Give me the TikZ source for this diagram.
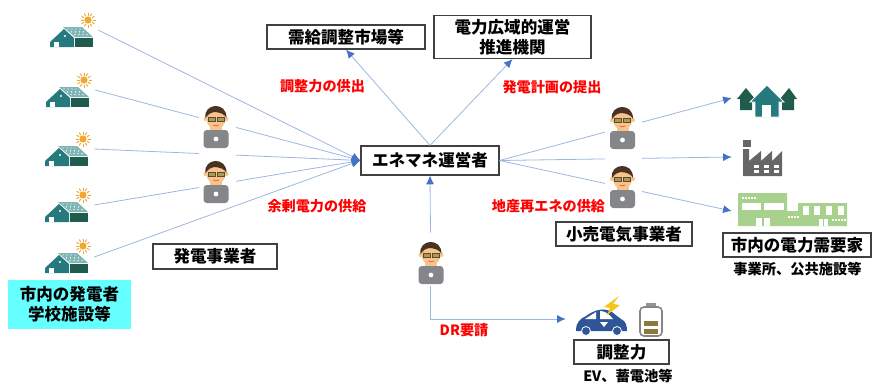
\documentclass[tikz,border=0pt]{standalone}
\usepackage{fontspec}
\setmainfont{Noto Sans CJK JP}
\usetikzlibrary{arrows.meta}
\definecolor{linkblue}{HTML}{9DB6E2}
\definecolor{tipblue}{HTML}{4472C4}
\definecolor{boxgray}{HTML}{404040}
\definecolor{genaqua}{HTML}{66FFFF}
\definecolor{teal}{HTML}{267A7D}
\definecolor{deepteal}{HTML}{1F5C4D}
\definecolor{panelteal}{HTML}{7FB5B5}
\definecolor{sunorange}{HTML}{F0A830}
\definecolor{hairbrown}{HTML}{4A3322}
\definecolor{skin}{HTML}{F6C48C}
\definecolor{lapgray}{HTML}{85868A}
\definecolor{glassolive}{HTML}{A89A5A}
\definecolor{factgray}{HTML}{666666}
\definecolor{bldgreen}{HTML}{A9D18E}
\definecolor{carblue}{HTML}{2F5597}
\definecolor{boltyellow}{HTML}{F5C518}
\definecolor{battbrown}{HTML}{8B7B3A}
\tikzset{
  namebox/.style={draw=boxgray, line width=0.9pt, fill=white, inner sep=0pt, align=center,
    font=\bfseries\fontsize{12.4}{15}\selectfont},
  redlabel/.style={text=red, inner sep=0pt, font=\bfseries\fontsize{10.6}{13}\selectfont},
  plainlabel/.style={inner sep=0pt, font=\bfseries\fontsize{10.7}{13}\selectfont},
  iconspot/.style={inner sep=0pt, minimum width=49*0.75pt, minimum height=35*0.75pt},
  personspot/.style={fill=white, inner sep=0pt, minimum width=37*0.75pt},
  link/.style={draw=linkblue, line width=0.6pt},
  flow/.style={link, -{Latex[color=tipblue, length=6.5pt, width=6pt]}},
  solarhouse/.pic={
    \fill[sunorange] (38,-27) circle (3.6);
    \foreach \a in {0,30,...,330} {
      \draw[sunorange, line width=0.7pt] (38,-27) ++(\a:4.5) -- ++(\a:3);
    }
    \fill[panelteal] (13,-20) -- (32,-20) -- (43,-10) -- (25,-10) -- cycle;
    \foreach \u in {0,1,2} {
      \foreach \v in {0,1,2,3} {
        \fill[white] (18+\v*4+\u*3.5,-18+\u*2.8) circle (0.7);
      }
    }
    \fill[teal] (0,0) -- (0,-5) -- (14,-18) -- (24,-9) -- (24,0) -- cycle;
    \fill[deepteal] (25,-9) rectangle (43,0);
    \fill[white] (4,0) rectangle (9,-5);
    \fill[white] (15,-11) circle (1.1);
  },
  engineer/.pic={
    \fill[skin] (-6,9) rectangle (6,14);
    \fill[skin] (-10.5,1) circle (2);
    \fill[skin] (10.5,1) circle (2);
    \fill[skin] (0,1) ellipse (9.5 and 10);
    \fill[hairbrown] (-10.5,0) .. controls (-13,-15) and (11,-17) .. (10.5,0)
      .. controls (9,-4) and (3,-6) .. (-2,-6) .. controls (-6,-5) and (-9,-3) .. (-10.5,0);
    \draw[hairbrown!70!battbrown, fill=glassolive, line width=0.5pt] (-8,-1) rectangle (-1,3);
    \draw[hairbrown!70!battbrown, fill=glassolive, line width=0.5pt] (1,-1) rectangle (8,3);
    \draw[red!60!skin, line width=0.5pt] (-3,7) .. controls (-1,8) and (1,8) .. (3,7);
    \fill[lapgray, rounded corners=2.5pt] (-12.5,12) rectangle (12.5,30);
    \fill[white] (0,21) circle (2.4);
  }
}
\begin{document}
\begin{tikzpicture}[x=0.75pt, y=-0.75pt]
\useasboundingbox (0,0) rectangle (872,383);

\node[namebox, minimum width=138*0.75pt, minimum height=29*0.75pt] (ene) at (430,160.5) {エネマネ運営者};
\node[namebox, minimum width=158*0.75pt, minimum height=24*0.75pt] (market) at (346,37) {需給調整市場等};
\node[namebox, minimum width=157*0.75pt, minimum height=43*0.75pt] (occto) at (512.5,37) {電力広域的運営\\推進機関};
\node[namebox, minimum width=124*0.75pt, minimum height=25*0.75pt] (gencom) at (215,256.5) {発電事業者};
\node[namebox, minimum width=136*0.75pt, minimum height=24*0.75pt] (retail) at (624,234) {小売電気事業者};
\node[namebox, minimum width=148*0.75pt, minimum height=24*0.75pt] (demand) at (797,245) {市内の電力需要家};
\node[namebox, minimum width=95*0.75pt, minimum height=24*0.75pt] (adjust) at (621.5,352) {調整力};
\node[fill=genaqua, inner sep=0pt, align=center, minimum width=123*0.75pt, minimum height=49*0.75pt,
  font=\bfseries\fontsize{12.4}{15}\selectfont] (genpeople) at (69.5,304.5) {市内の発電者\\学校施設等};
\node[plainlabel] (demandsub) at (797.5,269) {事業所、公共施設等};
\node[plainlabel] (adjustsub) at (628,376) {EV、蓄電池等};

\node[iconspot] (house1) at (73.5,30) {};
\node[iconspot] (house2) at (70.5,90) {};
\node[iconspot] (house3) at (69.5,149) {};
\node[iconspot] (house4) at (69.5,205) {};
\node[iconspot] (house5) at (69.5,257) {};
\node[inner sep=0pt, minimum width=70*0.75pt, minimum height=10pt] (homes) at (767,98) {};
\node[inner sep=0pt, minimum width=50*0.75pt, minimum height=10pt] (factory) at (757,157) {};
\node[inner sep=0pt, minimum width=118*0.75pt, minimum height=10pt] (office) at (791,211) {};
\node[inner sep=0pt, minimum width=71*0.75pt, minimum height=10pt] (car) at (601.5,319) {};
\node[personspot, minimum height=53*0.75pt] (dr) at (430.5,259.5) {};

\draw[flow] (house1.east) -- (ene.west);
\draw[flow] (house2.east) -- (ene.west);
\draw[flow] (house3.east) -- (ene.west);
\draw[flow] (house4.east) -- (ene.west);
\draw[flow] (house5.east) -- (ene.west);
\draw[flow] (ene.east) -- (homes.west);
\draw[flow] (ene.east) -- (factory.west);
\draw[flow] (ene.east) -- (office.west);
\draw[flow] (ene.north) -- (market.south);
\draw[flow] (ene.north) -- (occto.south);
\draw[flow] (dr.north) -- (ene.south);
\draw[flow] (dr.south) |- (car.west);

\node[personspot, minimum height=54*0.75pt] (gen1) at (217.5,131) {};
\node[personspot, minimum height=45*0.75pt] (gen2) at (217.5,181.5) {};
\node[personspot, minimum height=58*0.75pt] (sell1) at (623.5,135) {};
\node[personspot, minimum height=44*0.75pt] (sell2) at (623.5,187) {};

\pic at (216,118) {engineer};
\pic at (216,173) {engineer};
\pic at (622.5,119) {engineer};
\pic at (622.5,178) {engineer};
\pic at (431,254) {engineer};

\pic at (50,47) {solarhouse};
\pic at (46,107) {solarhouse};
\pic at (45,166) {solarhouse};
\pic at (45,222) {solarhouse};
\pic at (45,273) {solarhouse};

\node[redlabel] (lbsupply) at (322.5,86) {調整力の供出};
\node[redlabel] (lbplan) at (552,87) {発電計画の提出};
\node[redlabel] (lbsurplus) at (317,206) {余剰電力の供給};
\node[redlabel] (lblocal) at (548.5,206) {地産再エネの供給};
\node[redlabel] (lbdr) at (464,330) {DR要請};

\fill[deepteal] (737,99) -- (746,88) -- (755,99) -- (752,99) -- (752,110) -- (740,110) -- (740,99) -- cycle;
\fill[deepteal] (797,99) -- (789,88) -- (780,99) -- (782,99) -- (782,110) -- (794,110) -- (794,99) -- cycle;
\fill[teal, draw=white, line width=0.6pt] (750,102) -- (767,85) -- (784,102) -- (779,102) -- (779,117) -- (755,117) -- (755,102) -- cycle;
\fill[white] (762,105) rectangle (771,117);

\fill[factgray] (743,140) rectangle (751,147);
\fill[factgray] (743,149) -- (749,149) -- (749,161) -- (761,151) -- (761,161) -- (772,151) -- (772,161) -- (782,151) -- (782,176) -- (743,176) -- cycle;
\foreach \wx in {754,764,774} {
  \fill[white] (\wx,165) rectangle ++(5,3);
  \fill[white] (\wx,170) rectangle ++(5,3);
}

\fill[bldgreen] (738,193) -- (787,193) -- (787,211) -- (798,211) -- (798,203) -- (847,203) -- (847,226) -- (738,226) -- cycle;
\fill[white] (742,203) rectangle (761,210);
\fill[white] (764,203) rectangle (784,210);
\fill[white] (756,218) rectangle (762,226);
\fill[white] (764,218) rectangle (770,226);
\foreach \wx in {803,814,826,838} {
  \fill[white] (\wx,206) rectangle ++(6,9);
}
\fill[white] (819,219) rectangle (823,226);
\fill[white] (824,219) rectangle (828,226);
\foreach \wx in {742,745,748,751,754} {
  \fill[white] (\wx,197) rectangle ++(1.6,1.6);
}
\foreach \wx in {788,791,794,797} {
  \fill[white] (\wx,216) rectangle ++(1.6,1.6);
}
\foreach \wx in {832,835,838,841,844} {
  \fill[white] (\wx,219) rectangle ++(1.6,1.6);
}

\fill[carblue] (576,331) .. controls (576,322) and (580,319) .. (586,316) .. controls (594,310) and (604,307) .. (612,312)
  .. controls (616,315) and (618,317) .. (621,319) .. controls (626,321) and (627,326) .. (627,331) -- cycle;
\fill[white] (585,319) -- (596,312) -- (596,319) -- cycle;
\fill[white] (600,311) .. controls (605,311) and (609,314) .. (613,319) -- (600,319) -- cycle;
\fill[carblue, draw=white, line width=0.6pt] (586,331) circle (4.5);
\fill[carblue, draw=white, line width=0.6pt] (617,331) circle (4.5);
\fill[white] (600,322) -- (608,322) -- (604,327) -- cycle;
\fill[boltyellow] (619,296) -- (604,307) -- (610,308) -- (607,315) -- (620,305) -- (613,304) -- cycle;

\fill[factgray!70] (646,303) rectangle (656,308);
\draw[lapgray, fill=white, line width=1.2pt, rounded corners=3pt] (640,307) rectangle (662,336);
\fill[battbrown] (644,321) rectangle (658,326);
\fill[battbrown] (644,329) rectangle (658,334);
\end{tikzpicture}
\end{document}
